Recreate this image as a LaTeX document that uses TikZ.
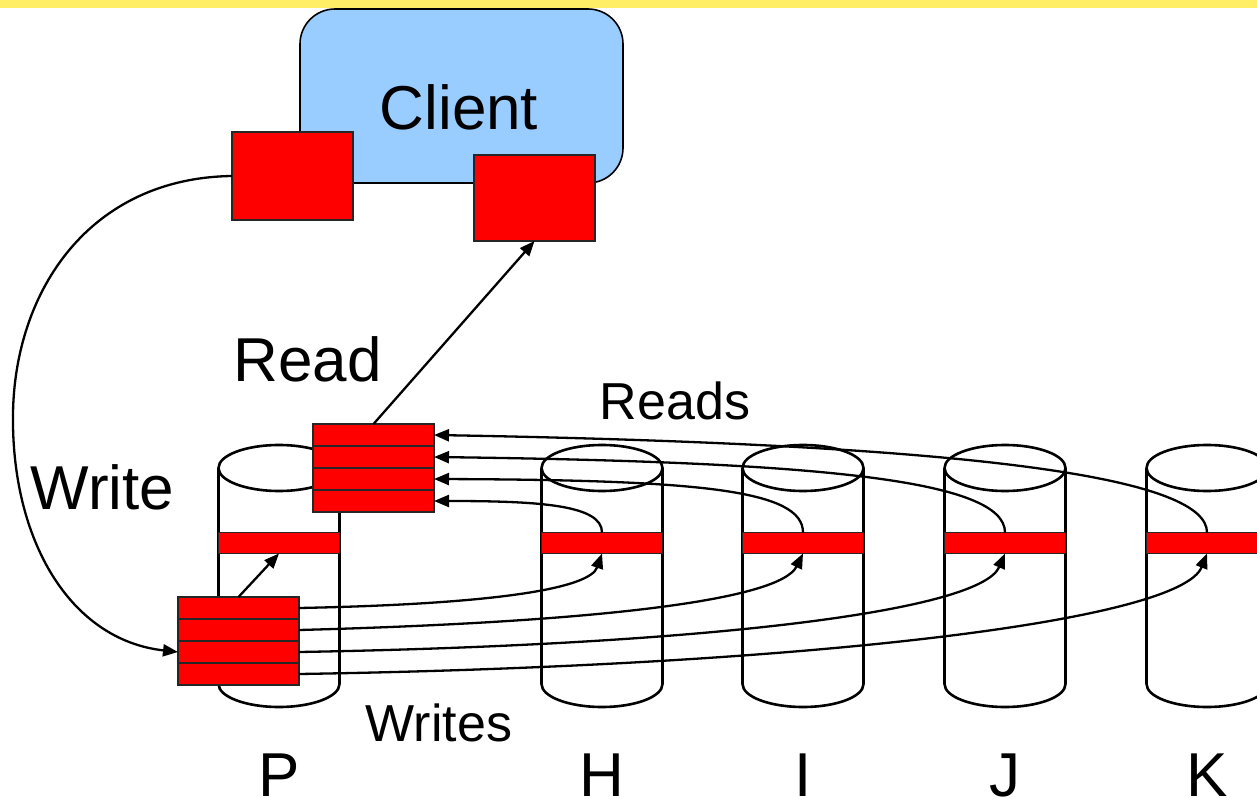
\documentclass[tikz,border=0pt]{standalone}
\usepackage{fontspec}
\setmainfont{Liberation Sans}
\usetikzlibrary{arrows.meta}
\definecolor{barYellow}{RGB}{255,238,102}
\definecolor{clientBlue}{RGB}{153,204,255}
\definecolor{blockRed}{RGB}{255,0,0}

\tikzset{
  drumline/.style={line width=2.6pt, line join=round},
  drum/.pic={
    \fill[white] (-60.5,0) -- (-60.5,216)
      arc[start angle=180, end angle=360, x radius=60.5pt, y radius=23pt]
      -- (60.5,0) -- cycle;
    \draw[drumline] (-60.5,0) -- (-60.5,216)
      arc[start angle=180, end angle=360, x radius=60.5pt, y radius=23pt]
      -- (60.5,0);
    \draw[drumline, fill=white] (0,0) ellipse [x radius=60.5pt, y radius=23pt];
  }
}

\begin{document}
\begin{tikzpicture}[x=1pt, y=-1pt,
  blk/.style={draw=black!85, line width=1.5pt, fill=blockRed,
    minimum width=121pt, inner sep=0pt, outer sep=0pt},
  row/.style={blk, minimum height=22pt},
  band/.style={blk, minimum height=21pt},
  link/.style={line width=2.3pt, -{Triangle[length=15pt, width=12pt]}},
  big/.style={font=\fontsize{62}{70}\selectfont, inner sep=0pt, anchor=base},
  mid/.style={font=\fontsize{52}{60}\selectfont, inner sep=0pt, anchor=base}
]
\useasboundingbox (0,0) rectangle (1257,799);

% title strip
\fill[barYellow] (0,0) rectangle (1257,8);

% client with its two buffers
\node[draw=black, line width=1.6pt, fill=clientBlue, rounded corners=35pt,
      minimum width=323pt, minimum height=174pt, inner sep=0pt] (client) at (461.5,96) {};
\node[big] (clientlbl) at (459,130) {Client};
\node[blk, minimum height=88pt] (sq1) at (292.5,176) {};
\node[blk, minimum height=86pt] (sq2) at (534.5,198) {};

% disks
\pic at (279,468) {drum};
\foreach \x in {602,803,1005,1207} \pic at (\x,468) {drum};

% stripe on each disk
\node[band] (bandP) at (279,543) {};
\node[band] (bandH) at (602,543) {};
\node[band] (bandI) at (803,543) {};
\node[band] (bandJ) at (1005,543) {};
\node[band] (bandK) at (1207,543) {};

% read buffer (upper) and write buffer (lower)
\node[row] (r1) at (373.5,435) {};
\node[row] (r2) at (373.5,457) {};
\node[row] (r3) at (373.5,479) {};
\node[row] (r4) at (373.5,501) {};

\node[row] (w1) at (238.5,608) {};
\node[row] (w2) at (238.5,630) {};
\node[row] (w3) at (238.5,652) {};
\node[row] (w4) at (238.5,674) {};

% client write into the write buffer
\draw[link] (sq1.west) .. controls (90,178) and (15,290) .. (13,413)
                        .. controls (11,540) and (70,640) .. (w3.west);
% read result back to the client
\draw[link] (r1.north) -- (sq2.south);
% local write to the primary
\draw[link] (w1.north) -- (bandP.south);

% replica reads
\draw[link] (bandH.north) .. controls (602,505) and (540,501) .. (r4.east);
\draw[link] (bandI.north) .. controls (803,490) and (700,480) .. (r3.east);
\draw[link] (bandJ.north) .. controls (1005,480) and (820,462) .. (r2.east);
\draw[link] (bandK.north) .. controls (1207,480) and (1000,445) .. (r1.east);

% replica writes
\draw[link] (w1.east) .. controls (500,604) and (590,588) .. (bandH.south);
\draw[link] (w2.east) .. controls (600,622) and (780,600) .. (bandI.south);
\draw[link] (w3.east) .. controls (700,645) and (980,612) .. (bandJ.south);
\draw[link] (w4.east) .. controls (800,666) and (1180,622) .. (bandK.south);

% labels
\node[big] (readlbl) at (307.5,381) {Read};
\node[big] (writelbl) at (102.5,509) {Write};
\node[mid] (readslbl) at (675,419) {Reads};
\node[mid] (writeslbl) at (439,741) {Writes};

\node[big] (lp) at (279,796) {P};
\node[big] (lh) at (602,796) {H};
\node[big] (li) at (803,796) {I};
\node[big] (lj) at (1005,796) {J};
\node[big] (lk) at (1207,796) {K};
\end{tikzpicture}
\end{document}
